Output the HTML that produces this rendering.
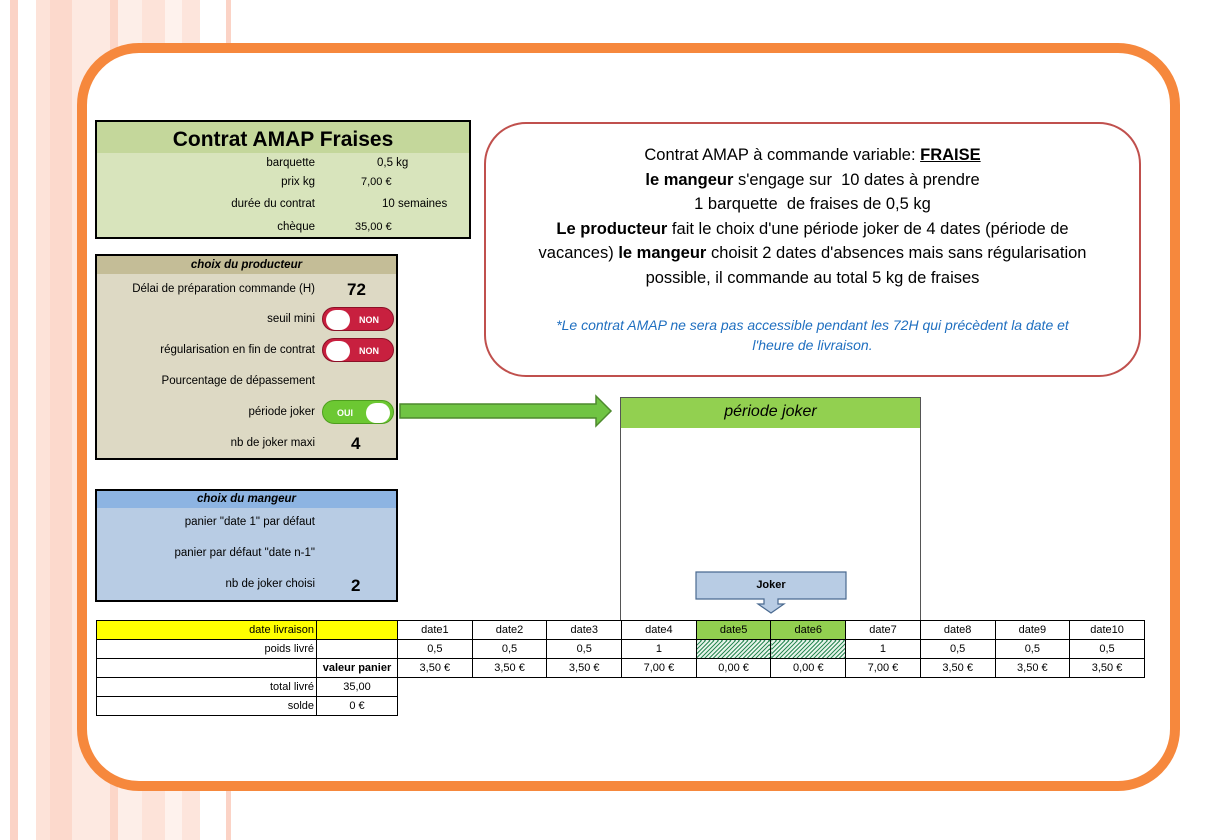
<!DOCTYPE html>
<html><head><meta charset="utf-8"><style>
*{margin:0;padding:0;box-sizing:border-box}
body{width:1217px;height:840px;position:relative;overflow:hidden;background:#fff;font-family:"Liberation Sans",sans-serif;color:#000}
.a{position:absolute}
.r{position:absolute;text-align:right;white-space:nowrap}
.c{position:absolute;text-align:center;white-space:nowrap}
table{border-collapse:collapse;position:absolute;left:96px;top:620px;font-size:11px}
td{border:1px solid #000;height:19px;padding:0 2px;text-align:center;white-space:nowrap}
.hat{background:repeating-linear-gradient(135deg,#2e8b57 0 1px,#e6f4ea 1px 3px)}
.tog{position:absolute;width:72px;height:24px;border-radius:12px;font-size:9px;font-weight:bold;color:#fff;line-height:24px}
.knob{position:absolute;top:2px;width:24px;height:20px;border-radius:10px;background:#fff}
</style></head><body>
<div class="a" style="left:0;top:0;width:232px;height:840px;background:linear-gradient(90deg,#fff 0 10px,#fbd3c6 10px 18px,#fff 18px 36px,#fde3d9 36px 50px,#fcd9cc 50px 72px,#fde9e1 72px 110px,#fcd6c8 110px 118px,#fdeee8 118px 142px,#fde3d9 142px 165px,#fef2ed 165px 182px,#fde5dc 182px 200px,#fff 200px 226px,#fbd3c6 226px 231px,#fff 231px)"></div>
<div class="a" style="left:77px;top:43px;width:1103px;height:748px;border:10px solid #f6883d;border-radius:62px;background:#fff"></div>

<div class="a" style="left:95px;top:120px;width:376px;height:119px;border:2px solid #000;background:#d8e4bc"></div>
<div class="a" style="left:97px;top:122px;width:372px;height:31px;background:#c4d79b"></div>
<div class="c" style="left:97px;top:128px;width:372px;font-size:21px;font-weight:bold">Contrat AMAP Fraises</div>
<div class="r" style="left:100px;top:157px;width:215px;font-size:11.5px">barquette</div>
<div class="r" style="left:100px;top:176px;width:215px;font-size:11.5px">prix kg</div>
<div class="r" style="left:100px;top:198px;width:215px;font-size:11.5px">durée du contrat</div>
<div class="r" style="left:100px;top:221px;width:215px;font-size:11.5px">chèque</div>
<div class="a" style="left:377px;top:157px;font-size:11.5px">0,5 kg</div>
<div class="a" style="left:361px;top:176px;font-size:11px">7,00 €</div>
<div class="a" style="left:382px;top:198px;font-size:11.5px">10 semaines</div>
<div class="a" style="left:355px;top:221px;font-size:11px">35,00 €</div>

<div class="a" style="left:95px;top:254px;width:303px;height:206px;border:2px solid #000;background:#ddd9c4"></div>
<div class="a" style="left:97px;top:256px;width:299px;height:18px;background:#c4bd97"></div>
<div class="c" style="left:97px;top:259px;width:299px;font-size:11.5px;font-weight:bold;font-style:italic">choix du producteur</div>
<div class="r" style="left:100px;top:283px;width:215px;font-size:11.5px">Délai de préparation commande (H)</div>
<div class="a" style="left:347px;top:280px;font-size:17px;font-weight:bold">72</div>
<div class="r" style="left:100px;top:313px;width:215px;font-size:11.5px">seuil mini</div>
<div class="r" style="left:100px;top:344px;width:215px;font-size:11.5px">régularisation en fin de contrat</div>
<div class="r" style="left:100px;top:375px;width:215px;font-size:11.5px">Pourcentage de dépassement</div>
<div class="r" style="left:100px;top:406px;width:215px;font-size:11.5px">période joker</div>
<div class="r" style="left:100px;top:437px;width:215px;font-size:11.5px">nb de joker maxi</div>
<div class="a" style="left:351px;top:434px;font-size:17px;font-weight:bold">4</div>
<div class="tog" style="left:322px;top:307px;background:#c8203f;border:1px solid #8a1026"><div class="knob" style="left:3px"></div><span style="position:absolute;left:36px">NON</span></div>
<div class="tog" style="left:322px;top:338px;background:#c8203f;border:1px solid #8a1026"><div class="knob" style="left:3px"></div><span style="position:absolute;left:36px">NON</span></div>
<div class="tog" style="left:322px;top:400px;background:#6cc832;border:1px solid #4e9e1e"><div class="knob" style="left:43px"></div><span style="position:absolute;left:14px">OUI</span></div>

<div class="a" style="left:95px;top:489px;width:303px;height:113px;border:2px solid #000;background:#b8cce4"></div>
<div class="a" style="left:97px;top:491px;width:299px;height:17px;background:#8db4e2"></div>
<div class="c" style="left:97px;top:493px;width:299px;font-size:11.5px;font-weight:bold;font-style:italic">choix du mangeur</div>
<div class="r" style="left:100px;top:516px;width:215px;font-size:11.5px">panier "date 1" par défaut</div>
<div class="r" style="left:100px;top:547px;width:215px;font-size:11.5px">panier par défaut "date n-1"</div>
<div class="r" style="left:100px;top:578px;width:215px;font-size:11.5px">nb de joker choisi</div>
<div class="a" style="left:351px;top:576px;font-size:17px;font-weight:bold">2</div>

<div class="a" style="left:484px;top:122px;width:657px;height:255px;border:2px solid #c0504d;border-radius:42px"></div>
<div class="c" style="left:486px;top:143px;width:653px;font-size:16.5px;line-height:24.5px">
Contrat AMAP à commande variable: <b><u>FRAISE</u></b><br>
<b>le mangeur</b> s'engage sur&nbsp; 10 dates à prendre<br>
1 barquette&nbsp; de fraises de 0,5 kg<br>
<b>Le producteur</b> fait le choix d'une période joker de 4 dates (période de<br>
vacances) <b>le mangeur</b> choisit 2 dates d'absences mais sans régularisation<br>
possible, il commande au total 5 kg de fraises</div>
<div class="c" style="left:486px;top:315px;width:653px;font-size:14px;line-height:20px;font-style:italic;color:#1f6fc0">*Le contrat AMAP ne sera pas accessible pendant les 72H qui précèdent la date et<br>l'heure de livraison.</div>

<svg class="a" style="left:398px;top:394px" width="216" height="34"><polygon points="2,10 198,10 198,2 213,17 198,32 198,24 2,24" fill="#70c443" stroke="#4e8a2e" stroke-width="1.5"/></svg>

<div class="a" style="left:620px;top:397px;width:301px;height:224px;border:1px solid #555;background:#fff"></div>
<div class="a" style="left:621px;top:398px;width:299px;height:30px;background:#92d050"></div>
<div class="c" style="left:621px;top:403px;width:299px;font-size:16px;font-style:italic">période joker</div>

<svg class="a" style="left:694px;top:571px" width="156" height="44"><polygon points="2,1 152,1 152,28 84,28 84,33 90,33 77,42 64,33 70,33 70,28 2,28" fill="#b8cce4" stroke="#4a6a90" stroke-width="1.2"/></svg>
<div class="c" style="left:696px;top:579px;width:150px;font-size:11px;font-weight:bold">Joker</div>

<table>
<colgroup><col style="width:220px"><col style="width:81px"><col span="10" style="width:74.7px"></colgroup>
<tr><td style="background:#ffff00;text-align:right">date livraison</td><td style="background:#ffff00"></td><td>date1</td><td>date2</td><td>date3</td><td>date4</td><td style="background:#92d050">date5</td><td style="background:#92d050">date6</td><td>date7</td><td>date8</td><td>date9</td><td>date10</td></tr>
<tr><td style="text-align:right">poids livré</td><td></td><td>0,5</td><td>0,5</td><td>0,5</td><td>1</td><td class="hat"></td><td class="hat"></td><td>1</td><td>0,5</td><td>0,5</td><td>0,5</td></tr>
<tr><td></td><td style="font-weight:bold">valeur panier</td><td>3,50 €</td><td>3,50 €</td><td>3,50 €</td><td>7,00 €</td><td>0,00 €</td><td>0,00 €</td><td>7,00 €</td><td>3,50 €</td><td>3,50 €</td><td>3,50 €</td></tr>
<tr><td style="text-align:right">total livré</td><td>35,00</td><td style="border:none" colspan="10"></td></tr>
<tr><td style="text-align:right">solde</td><td>0 €</td><td style="border:none" colspan="10"></td></tr>
</table>
</body></html>
